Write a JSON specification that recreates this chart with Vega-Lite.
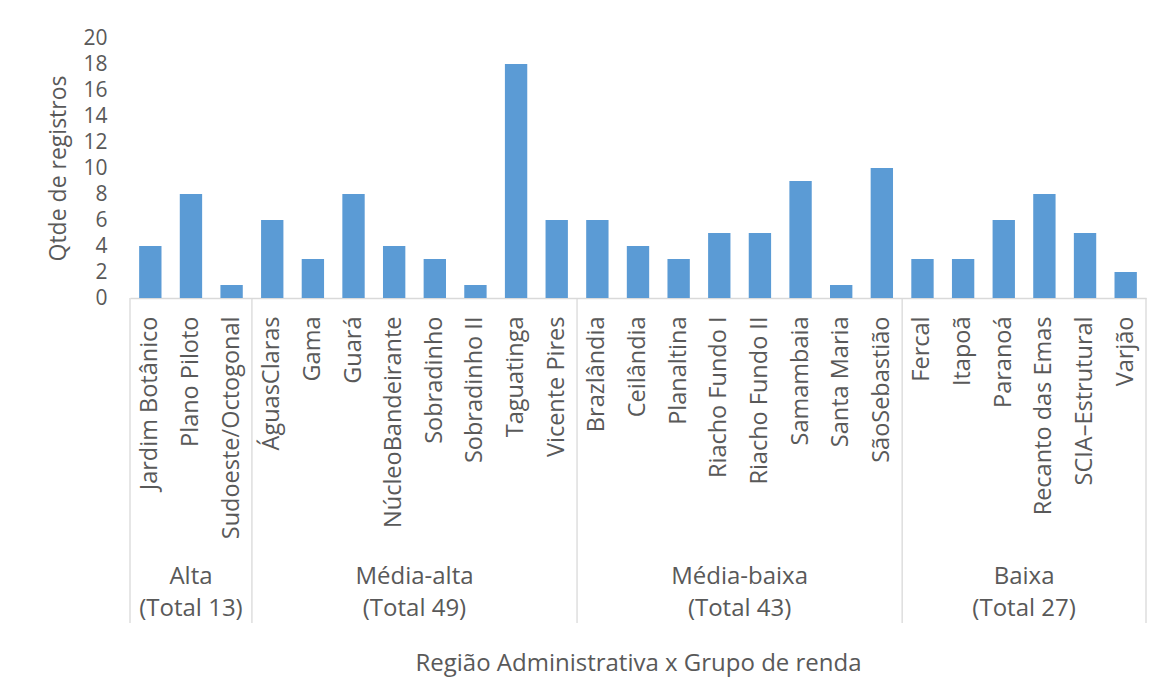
{
  "$schema": "https://vega.github.io/schema/vega-lite/v6.json",
  "autosize": {"type": "none"},
  "padding": {"left": 130, "top": 38, "right": 16, "bottom": 388},
  "width": 1016,
  "height": 260,
  "background": "white",
  "config": {
    "view": {"stroke": null},
    "font": "Open Sans",
    "text": {"font": "Open Sans"},
    "axisY": {
      "labelFontSize": 21,
      "labelColor": "#595959",
      "labelFont": "Open Sans",
      "labelPadding": 23,
      "labelOverlap": false,
      "domain": false,
      "ticks": false,
      "tickSize": 0,
      "grid": false,
      "titleFontSize": 23,
      "titleFontWeight": "normal",
      "titleColor": "#595959",
      "titleFont": "Open Sans",
      "titlePadding": 12
    }
  },
  "datasets": {
    "regioes": [
      {"ra": "Jardim Botânico", "grupo": "Alta", "qtde": 4},
      {"ra": "Plano Piloto", "grupo": "Alta", "qtde": 8},
      {"ra": "Sudoeste/Octogonal", "grupo": "Alta", "qtde": 1},
      {"ra": "ÁguasClaras", "grupo": "Média-alta", "qtde": 6},
      {"ra": "Gama", "grupo": "Média-alta", "qtde": 3},
      {"ra": "Guará", "grupo": "Média-alta", "qtde": 8},
      {"ra": "NúcleoBandeirante", "grupo": "Média-alta", "qtde": 4},
      {"ra": "Sobradinho", "grupo": "Média-alta", "qtde": 3},
      {"ra": "Sobradinho II", "grupo": "Média-alta", "qtde": 1},
      {"ra": "Taguatinga", "grupo": "Média-alta", "qtde": 18},
      {"ra": "Vicente Pires", "grupo": "Média-alta", "qtde": 6},
      {"ra": "Brazlândia", "grupo": "Média-baixa", "qtde": 6},
      {"ra": "Ceilândia", "grupo": "Média-baixa", "qtde": 4},
      {"ra": "Planaltina", "grupo": "Média-baixa", "qtde": 3},
      {"ra": "Riacho Fundo I", "grupo": "Média-baixa", "qtde": 5},
      {"ra": "Riacho Fundo II", "grupo": "Média-baixa", "qtde": 5},
      {"ra": "Samambaia", "grupo": "Média-baixa", "qtde": 9},
      {"ra": "Santa Maria", "grupo": "Média-baixa", "qtde": 1},
      {"ra": "SãoSebastião", "grupo": "Média-baixa", "qtde": 10},
      {"ra": "Fercal", "grupo": "Baixa", "qtde": 3},
      {"ra": "Itapoã", "grupo": "Baixa", "qtde": 3},
      {"ra": "Paranoá", "grupo": "Baixa", "qtde": 6},
      {"ra": "Recanto das Emas", "grupo": "Baixa", "qtde": 8},
      {"ra": "SCIA–Estrutural", "grupo": "Baixa", "qtde": 5},
      {"ra": "Varjão", "grupo": "Baixa", "qtde": 2}
    ],
    "inicioGrupo": [
      {"ra": "Jardim Botânico"},
      {"ra": "ÁguasClaras"},
      {"ra": "Brazlândia"},
      {"ra": "Fercal"}
    ],
    "fimGrupo": [
      {"ra": "Varjão"}
    ],
    "rotuloImpar": [
      {"ra": "Plano Piloto", "rotulo": "Alta|(Total 13)"}
    ],
    "rotuloPar": [
      {"ra": "Sobradinho", "rotulo": "Média-alta|(Total 49)"},
      {"ra": "Riacho Fundo II", "rotulo": "Média-baixa|(Total 43)"},
      {"ra": "Recanto das Emas", "rotulo": "Baixa|(Total 27)"}
    ]
  },
  "encoding": {
    "x": {
      "field": "ra",
      "type": "nominal",
      "sort": null,
      "scale": {
        "type": "band",
        "paddingInner": 0,
        "paddingOuter": 0,
        "domain": ["Jardim Botânico", "Plano Piloto", "Sudoeste/Octogonal", "ÁguasClaras", "Gama", "Guará", "NúcleoBandeirante", "Sobradinho", "Sobradinho II", "Taguatinga", "Vicente Pires", "Brazlândia", "Ceilândia", "Planaltina", "Riacho Fundo I", "Riacho Fundo II", "Samambaia", "Santa Maria", "SãoSebastião", "Fercal", "Itapoã", "Paranoá", "Recanto das Emas", "SCIA–Estrutural", "Varjão"]
      },
      "axis": {
        "title": "Região Administrativa x Grupo de renda",
        "titleFontSize": 24,
        "titleFontWeight": "normal",
        "titleColor": "#595959",
        "titleFont": "Open Sans",
        "titlePadding": 153,
        "labelAngle": -90,
        "labelFontSize": 23.5,
        "labelColor": "#595959",
        "labelFont": "Open Sans",
        "labelPadding": 18,
        "labelOverlap": false,
        "labelLimit": 400,
        "ticks": false,
        "tickSize": 0,
        "domainColor": "#D9D9D9",
        "domainWidth": 1.3,
        "grid": false
      }
    }
  },
  "layer": [
    {
      "data": {"name": "regioes"},
      "mark": {"type": "bar", "color": "#5B9BD5", "width": {"band": 0.55}},
      "encoding": {
        "y": {
          "field": "qtde",
          "type": "quantitative",
          "scale": {"domain": [0, 20], "nice": false},
          "axis": {"title": "Qtde de registros", "values": [0, 2, 4, 6, 8, 10, 12, 14, 16, 18, 20], "labelOverlap": false, "labelFontSize": 21}
        }
      }
    },
    {
      "data": {"name": "inicioGrupo"},
      "mark": {"type": "rule", "color": "#D9D9D9", "strokeWidth": 1.3},
      "encoding": {
        "x": {"field": "ra", "type": "nominal", "bandPosition": 0},
        "y": {"datum": 0, "type": "quantitative", "axis": {"title": "Qtde de registros", "values": [0, 2, 4, 6, 8, 10, 12, 14, 16, 18, 20], "labelOverlap": false, "labelFontSize": 21}},
        "y2": {"datum": -25}
      }
    },
    {
      "data": {"name": "fimGrupo"},
      "mark": {"type": "rule", "color": "#D9D9D9", "strokeWidth": 1.3},
      "encoding": {
        "x": {"field": "ra", "type": "nominal", "bandPosition": 1},
        "y": {"datum": 0, "type": "quantitative", "axis": {"title": "Qtde de registros", "values": [0, 2, 4, 6, 8, 10, 12, 14, 16, 18, 20], "labelOverlap": false, "labelFontSize": 21}},
        "y2": {"datum": -25}
      }
    },
    {
      "data": {"name": "rotuloImpar"},
      "mark": {"type": "text", "fontSize": 24, "color": "#595959", "lineBreak": "|", "lineHeight": 32, "align": "center", "baseline": "middle"},
      "encoding": {
        "x": {"field": "ra", "type": "nominal", "bandPosition": 0.5},
        "y": {"datum": -21.45, "type": "quantitative", "axis": {"title": "Qtde de registros", "values": [0, 2, 4, 6, 8, 10, 12, 14, 16, 18, 20], "labelOverlap": false, "labelFontSize": 21}},
        "text": {"field": "rotulo", "type": "nominal"}
      }
    },
    {
      "data": {"name": "rotuloPar"},
      "mark": {"type": "text", "fontSize": 24, "color": "#595959", "lineBreak": "|", "lineHeight": 32, "align": "center", "baseline": "middle"},
      "encoding": {
        "x": {"field": "ra", "type": "nominal", "bandPosition": 0},
        "y": {"datum": -21.45, "type": "quantitative", "axis": {"title": "Qtde de registros", "values": [0, 2, 4, 6, 8, 10, 12, 14, 16, 18, 20], "labelOverlap": false, "labelFontSize": 21}},
        "text": {"field": "rotulo", "type": "nominal"}
      }
    }
  ]
}
